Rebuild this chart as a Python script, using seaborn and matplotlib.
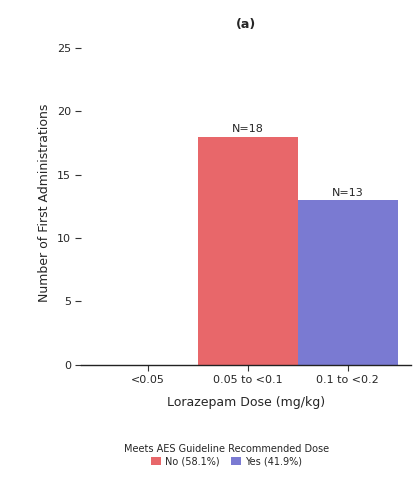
import pandas as pd
import numpy as np
import matplotlib.pyplot as plt
import seaborn as sns

# 数据
dose_bins = ["<0.05", "0.05 to <0.1", "0.1 to <0.2"]
counts = [0, 18, 13]
meets = ["No", "No", "Yes"]
legend_labels = {"No": "No (58.1%)", "Yes": "Yes (41.9%)"}
colors = {"No": "#E8676A", "Yes": "#7A7AD2"}

df = pd.DataFrame({"dose": dose_bins, "n": counts, "meets": meets})

sns.set_theme(style="white")
plt.rcParams["font.family"] = ["DejaVu Sans"]

fig, ax = plt.subplots(figsize=(4.17, 4.8), dpi=100)
fig.subplots_adjust(left=0.195, right=0.985, top=0.913, bottom=0.24)

sns.barplot(data=df, x="dose", y="n", hue="meets", palette=colors,
            dodge=False, width=1.0, order=dose_bins, hue_order=["No", "Yes"],
            ax=ax, saturation=1, linewidth=0)

# N 标签
for i, v in enumerate(counts):
    if v > 0:
        ax.text(i, v + 0.2, f"N={v}", ha="center", va="bottom", fontsize=8)

ax.set_ylim(0, 25.5)
ax.set_yticks([0, 5, 10, 15, 20, 25])
ax.set_xlim(-0.67, 2.63)
ax.set_title("(a)", fontsize=9, fontweight="bold", pad=10)
ax.set_xlabel("Lorazepam Dose (mg/kg)", fontsize=9, labelpad=8)
ax.set_ylabel("Number of First Administrations", fontsize=9)
ax.tick_params(axis="both", labelsize=8, length=4, width=0.8, left=True, bottom=True,
               color="#333333")

for s in ["top", "right", "left"]:
    ax.spines[s].set_visible(False)
ax.spines["bottom"].set_color("#222222")
ax.spines["bottom"].set_linewidth(1.0)

handles, labels = ax.get_legend_handles_labels()
ax.legend(handles, [legend_labels[l] for l in labels],
          title="Meets AES Guideline Recommended Dose",
          loc="upper center", bbox_to_anchor=(0.44, -0.225), ncol=2,
          frameon=False, fontsize=7, title_fontsize=7,
          handlelength=1.0, handleheight=1.0, columnspacing=1.2, handletextpad=0.4,
          labelspacing=0.2, borderpad=0.2)

plt.savefig("out.png", dpi=100)
